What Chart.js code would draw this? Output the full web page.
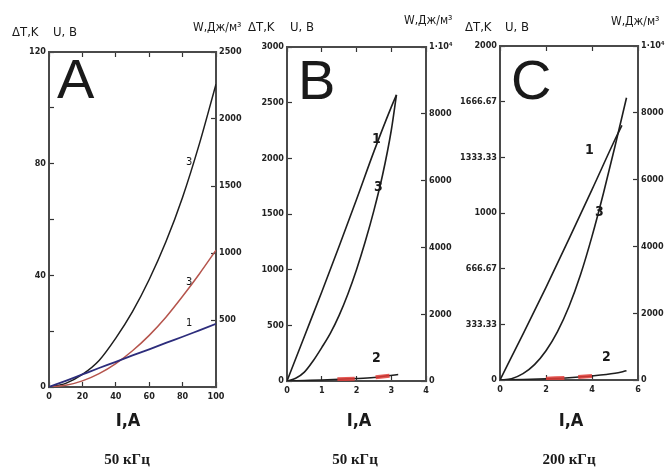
<!DOCTYPE html>
<html>
<head>
<meta charset="utf-8">
<script src="https://cdn.jsdelivr.net/npm/chart.js@4.4.0/dist/chart.umd.min.js"></script>
<style>
body{margin:0;background:#fff;width:672px;height:473px;overflow:hidden;position:relative}
canvas{position:absolute;left:0;top:0}
</style>
</head>
<body>
<canvas id="chA" width="672" height="473"></canvas>
<canvas id="chB" width="672" height="473"></canvas>
<canvas id="chC" width="672" height="473"></canvas>
<script>
// panel A, 50 kHz, I = 0..100 A
const xA = [0, 10, 20, 30, 40, 50, 60, 70, 80, 90, 100];
const a3black = [0, 1.3, 4.5, 9.5, 17.5, 27, 38.5, 52, 68, 87, 108.5];
const a3red = [0, 0.6, 2.2, 4.8, 8.4, 13, 18.5, 25, 32.5, 40.5, 49];
const a1blue = [0, 2.2, 4.5, 6.8, 9, 11.3, 13.5, 15.8, 18, 20.3, 22.6];
const xTicksA = [0, 20, 40, 60, 80, 100];
const yTicksA = [0, 20, 40, 60, 80, 100, 120];
const yLabelsA = [0, 40, 80, 120];
const wTicksA = [0, 500, 1000, 1500, 2000, 2500];

// panel B, 50 kHz, I = 0..4 A
const xB1 = [0, 0.5, 1, 1.5, 2, 2.5, 3, 3.15];
const b1 = [0, 400, 800, 1210, 1630, 2060, 2460, 2570];
const xB3 = [0, 0.25, 0.5, 0.75, 1, 1.25, 1.5, 1.75, 2, 2.25, 2.5, 2.75, 3, 3.15];
const b3 = [0, 25, 80, 180, 300, 430, 590, 780, 1000, 1250, 1530, 1850, 2250, 2570];
const xB2 = [0, 0.5, 1, 1.5, 2, 2.5, 2.9, 3.2];
const b2 = [0, 5, 10, 16, 22, 32, 48, 58];
const xB2r1 = [1.45, 1.7, 1.95];
const b2r1 = [15, 18, 21];
const xB2r2 = [2.55, 2.75, 2.95];
const b2r2 = [33, 40, 48];
const xTicksB = [0, 1, 2, 3, 4];
const yTicksB = [0, 500, 1000, 1500, 2000, 2500, 3000];
const wTicksB = [0, 2000, 4000, 6000, 8000, 10000];

// panel C, 200 kHz, I = 0..6 A
const xC1 = [0, 1, 2, 3, 4, 5, 5.3];
const c1 = [0, 275, 555, 845, 1140, 1440, 1525];
const xC3 = [0, 0.5, 1, 1.5, 2, 2.5, 3, 3.5, 4, 4.5, 5, 5.5];
const c3 = [0, 8, 38, 92, 175, 290, 440, 630, 860, 1120, 1400, 1690];
const xC2 = [0, 1, 2, 3, 4, 5, 5.5];
const c2 = [0, 3, 8, 14, 24, 40, 55];
const xC2r1 = [2, 2.4, 2.8];
const c2r1 = [8, 10, 12];
const xC2r2 = [3.4, 3.7, 4.0];
const c2r2 = [18, 21, 24];
const xTicksC = [0, 2, 4, 6];
const yTicksC = [0, 333.33, 666.67, 1000, 1333.33, 1666.67, 2000];
const wTicksC = [0, 2000, 4000, 6000, 8000, 10000];

const NARROW = '"DejaVu Sans Condensed","Liberation Sans",sans-serif';
const tickFont = {family: NARROW, size: 9, weight: 'bold'};

function pts(xs, ys) {
    return xs.map((x, i) => ({x: x, y: ys[i]}));
}

function line(xs, ys, color, width) {
    return {data: pts(xs, ys), borderColor: color, borderWidth: width || 1.6, pointRadius: 0, fill: false, cubicInterpolationMode: 'monotone'};
}

const textPlugin = {
    id: 'texts',
    afterDraw(chart) {
        const ctx = chart.ctx;
        const t = chart.config.options.texts || [];
        ctx.save();
        t.forEach(s => {
            ctx.font = s.font;
            ctx.fillStyle = s.color || '#1a1a1a';
            ctx.textAlign = s.align || 'left';
            ctx.textBaseline = 'middle';
            ctx.fillText(s.text, s.x, s.y);
        });
        ctx.restore();
    }
};

function axisOpts(pos, min, max, tickList, label, size, pad) {
    const horiz = pos === 'top' || pos === 'bottom';
    return {
        type: 'linear', position: pos, min: min, max: max,
        afterBuildTicks: s => { s.ticks = tickList.map(v => ({value: v})); },
        afterFit: s => { if (horiz) s.height = size; else s.width = size; },
        grid: {drawOnChartArea: false, tickLength: -5, tickColor: '#333', tickWidth: 1.2},
        border: {display: true, color: '#4a4a4a', width: 2},
        ticks: {display: pos !== 'top', padding: pad, font: tickFont, color: '#222', maxRotation: 0, autoSkip: false, callback: label}
    };
}

function makePanel(id, p) {
    new Chart(document.getElementById(id), {
        type: 'line',
        data: {datasets: p.datasets},
        options: {
            responsive: false,
            animation: false,
            layout: {padding: p.pad},
            plugins: {legend: {display: false}, tooltip: {enabled: false}},
            scales: {
                x: axisOpts('bottom', p.x[0], p.x[1], p.xTicks, v => String(v), 20, 9),
                xTop: axisOpts('top', p.x[0], p.x[1], p.xTicks, () => '', 0, 0),
                y: axisOpts('left', p.y[0], p.y[1], p.yTicks, p.yLabel, p.leftW, 8),
                y2: axisOpts('right', p.w[0], p.w[1], p.wTicks, p.wLabel, 30, 8)
            },
            texts: p.texts
        },
        plugins: [textPlugin]
    });
}

const unitFont = '13px ' + NARROW;
const wFont = '12px ' + NARROW;
const bigFont = '56px "Liberation Sans",Arial,sans-serif';
const iFont = 'bold 18px ' + NARROW;
const fFont = 'bold 15px "Liberation Serif","DejaVu Serif",serif';
const numFont = 'bold 14px ' + NARROW;
const smallNum = '11px ' + NARROW;

makePanel('chA', {
    pad: {left: 9, right: 426, top: 52, bottom: 66}, leftW: 40,
    x: [0, 100], y: [0, 120], w: [0, 2500],
    xTicks: xTicksA, yTicks: yTicksA, wTicks: wTicksA,
    yLabel: v => yLabelsA.includes(v) ? String(v) : '',
    wLabel: v => v === 0 ? '' : String(v),
    datasets: [
        line(xA, a1blue, '#2d2d7c', 1.8),
        line(xA, a3red, '#b5544c', 1.5),
        line(xA, a3black, '#1e1e1e', 1.5)
    ],
    texts: [
        {text: 'A', x: 57, y: 83, font: bigFont},
        {text: 'ΔT,K', x: 12, y: 33, font: unitFont},
        {text: 'U, B', x: 53, y: 33, font: unitFont},
        {text: 'W,Дж/м³', x: 193, y: 28, font: wFont},
        {text: '3', x: 186, y: 162, font: smallNum},
        {text: '3', x: 186, y: 282, font: smallNum},
        {text: '1', x: 186, y: 323, font: smallNum},
        {text: 'I,А', x: 128, y: 421, font: iFont, align: 'center'},
        {text: '50 кГц', x: 127, y: 460, font: fFont, align: 'center'}
    ]
});

makePanel('chB', {
    pad: {left: 247, right: 216, top: 47, bottom: 72}, leftW: 40,
    x: [0, 4], y: [0, 3000], w: [0, 10000],
    xTicks: xTicksB, yTicks: yTicksB, wTicks: wTicksB,
    yLabel: v => String(v),
    wLabel: v => v === 10000 ? '1·10⁴' : String(v),
    datasets: [
        line(xB2r1, b2r1, 'rgba(225,60,55,0.85)', 4),
        line(xB2r2, b2r2, 'rgba(225,60,55,0.85)', 4),
        line(xB2, b2, '#1e1e1e', 1.5),
        line(xB1, b1, '#1e1e1e', 1.6),
        line(xB3, b3, '#1e1e1e', 1.6)
    ],
    texts: [
        {text: 'B', x: 298, y: 84, font: bigFont},
        {text: 'ΔT,K', x: 248, y: 28, font: unitFont},
        {text: 'U, B', x: 290, y: 28, font: unitFont},
        {text: 'W,Дж/м³', x: 404, y: 21, font: wFont},
        {text: '1', x: 372, y: 139, font: numFont},
        {text: '3', x: 374, y: 187, font: numFont},
        {text: '2', x: 372, y: 358, font: numFont},
        {text: 'I,А', x: 359, y: 421, font: iFont, align: 'center'},
        {text: '50 кГц', x: 355, y: 460, font: fFont, align: 'center'}
    ]
});

makePanel('chC', {
    pad: {left: 450, right: 4, top: 46, bottom: 73}, leftW: 50,
    x: [0, 6], y: [0, 2000], w: [0, 10000],
    xTicks: xTicksC, yTicks: yTicksC, wTicks: wTicksC,
    yLabel: v => String(v),
    wLabel: v => v === 10000 ? '1·10⁴' : String(v),
    datasets: [
        line(xC2r1, c2r1, 'rgba(225,60,55,0.85)', 4),
        line(xC2r2, c2r2, 'rgba(225,60,55,0.85)', 4),
        line(xC2, c2, '#1e1e1e', 1.5),
        line(xC1, c1, '#1e1e1e', 1.6),
        line(xC3, c3, '#1e1e1e', 1.6)
    ],
    texts: [
        {text: 'C', x: 511, y: 84, font: bigFont},
        {text: 'ΔT,K', x: 465, y: 28, font: unitFont},
        {text: 'U, B', x: 505, y: 28, font: unitFont},
        {text: 'W,Дж/м³', x: 611, y: 22, font: wFont},
        {text: '1', x: 585, y: 150, font: numFont},
        {text: '3', x: 595, y: 212, font: numFont},
        {text: '2', x: 602, y: 357, font: numFont},
        {text: 'I,А', x: 571, y: 421, font: iFont, align: 'center'},
        {text: '200 кГц', x: 569, y: 460, font: fFont, align: 'center'}
    ]
});
</script>
</body>
</html>
